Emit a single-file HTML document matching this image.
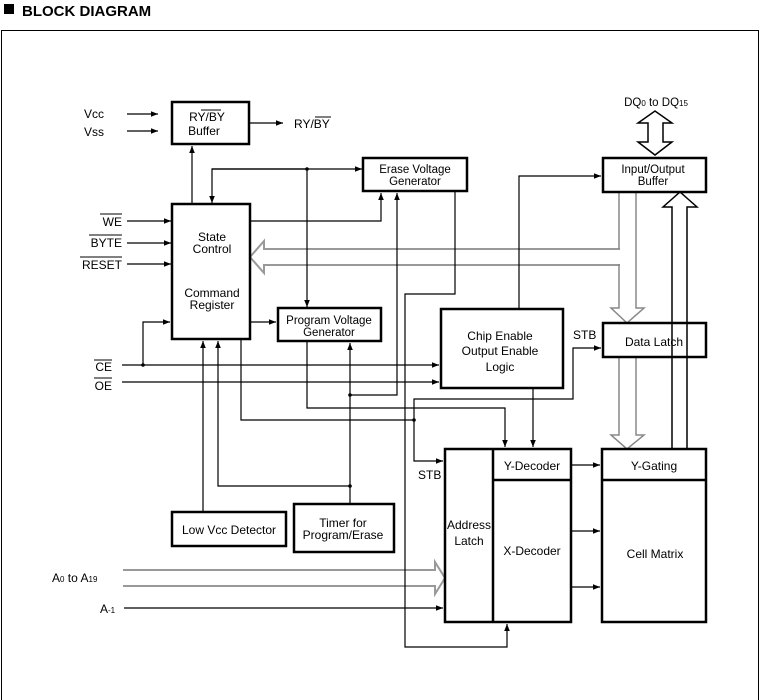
<!DOCTYPE html>
<html><head><meta charset="utf-8"><style>
html,body{margin:0;padding:0;background:#fff;}
svg{display:block;font-family:"Liberation Sans",Arial,sans-serif;}
</style></head><body>
<svg width="759" height="700" viewBox="0 0 759 700" xmlns="http://www.w3.org/2000/svg">
<defs>
<marker id="a" viewBox="0 0 10 10" refX="10" refY="5" markerWidth="7" markerHeight="7" orient="auto" markerUnits="userSpaceOnUse"><path d="M0,1 L10,5 L0,9 z" fill="#000"/></marker>
</defs>
<rect x="4" y="4" width="10" height="10" fill="#000"/>
<text x="22" y="16" font-size="15" font-weight="bold">BLOCK DIAGRAM</text>
<path d="M1.5,700 V30.5 H758.5 V700" fill="none" stroke="#000" stroke-width="1"/>

<!-- buses -->
<g fill="#fff" stroke="#999" stroke-width="2">
<path d="M620,249 H264 V241 L250,257 L264,273 V265 H620"/>
<path d="M123,570 H435 V562 L445,578 L435,594 V586 H123"/>
</g>
<rect x="266" y="250" width="352" height="14" fill="#fff"/>
<rect x="125" y="571" width="309" height="14" fill="#fff"/>

<g fill="none" stroke="#000" stroke-width="1.2">
<line x1="127" y1="114" x2="158" y2="114" marker-end="url(#a)"/>
<line x1="127" y1="131" x2="158" y2="131" marker-end="url(#a)"/>
<line x1="249" y1="123" x2="283" y2="123" marker-end="url(#a)"/>
<line x1="127" y1="221" x2="171" y2="221" marker-end="url(#a)"/>
<line x1="127" y1="243" x2="171" y2="243" marker-end="url(#a)"/>
<line x1="127" y1="264" x2="171" y2="264" marker-end="url(#a)"/>
<line x1="192" y1="204" x2="192" y2="146" marker-end="url(#a)"/>
<polyline points="307,169 212,169 212,203" marker-end="url(#a)"/>
<polyline points="212,169 362,169" marker-end="url(#a)"/>
<line x1="307" y1="169" x2="307" y2="307" marker-end="url(#a)"/>
<polyline points="250,221 381,221 381,193" marker-end="url(#a)"/>
<polyline points="350,395 397,395 397,193" marker-end="url(#a)"/>
<polyline points="455,191 455,294 405,294 405,647 507,647 507,624" marker-end="url(#a)"/>
<polyline points="519,309 519,176 601,176" marker-end="url(#a)"/>
<polyline points="250,322 276,322" marker-end="url(#a)"/>
<polyline points="122,365 439,365" marker-end="url(#a)"/>
<polyline points="122,382 439,382" marker-end="url(#a)"/>
<polyline points="143,365 143,322 170,322" marker-end="url(#a)"/>
<polyline points="203,512 203,341" marker-end="url(#a)"/>
<polyline points="350,486 218,486 218,341" marker-end="url(#a)"/>
<polyline points="350,504 350,343" marker-end="url(#a)"/>
<polyline points="241,339 241,420 414,420"/>
<polyline points="307,341 307,408 505,408 505,447" marker-end="url(#a)"/>
<polyline points="414,420 414,399 573,399 573,348 601,348" marker-end="url(#a)"/>
<polyline points="414,420 414,461 443,461" marker-end="url(#a)"/>
<line x1="533" y1="388" x2="533" y2="447" marker-end="url(#a)"/>
<line x1="571" y1="465" x2="600" y2="465" marker-end="url(#a)"/>
<line x1="571" y1="531" x2="600" y2="531" marker-end="url(#a)"/>
<line x1="571" y1="587" x2="600" y2="587" marker-end="url(#a)"/>
<line x1="124" y1="608" x2="443" y2="608" marker-end="url(#a)"/>
</g>
<g fill="#000">
<circle cx="307" cy="169" r="1.8"/><circle cx="143" cy="365" r="1.8"/>
<circle cx="350" cy="395" r="1.8"/><circle cx="350" cy="486" r="1.8"/>
<circle cx="414" cy="420" r="1.8"/>
</g>

<g fill="none" stroke="#888" stroke-width="1.5">
<path d="M619,192 V249 M619,264 V308 H611 L627,323 L644,308 H636 V192" />
<path d="M619,357 V435 H611 L627,449 L644,435 H636 V357"/>
</g>
<g fill="none" stroke="#000" stroke-width="1.5">
<path d="M672,449 V207 H663 L680,192 L697,207 H687 V449"/>
<path d="M648,123 H638 L655,111 L672,123 H663 V142 H672 L655,155 L638,142 H648 Z" fill="#fff"/>
</g>

<g fill="none" stroke="#000" stroke-width="2.5">
<rect x="172" y="102" width="77" height="42"/>
<rect x="172" y="204" width="78" height="135"/>
<rect x="363" y="158" width="104" height="33"/>
<rect x="278" y="308" width="103" height="33"/>
<rect x="441" y="309" width="122" height="79"/>
<rect x="603" y="158" width="103" height="34"/>
<rect x="603" y="323" width="103" height="34"/>
<rect x="445" y="449" width="126" height="173"/>
<line x1="493" y1="449" x2="493" y2="622"/>
<line x1="493" y1="480" x2="571" y2="480"/>
<rect x="602" y="449" width="104" height="173"/>
<line x1="602" y1="480" x2="706" y2="480"/>
<rect x="172" y="512" width="114" height="34"/>
<rect x="294" y="504" width="100" height="48"/>
</g>

<g font-size="12" text-anchor="middle" fill="#000">
<text x="207" y="121">RY/BY</text>
<line x1="201" y1="110" x2="221" y2="110" stroke="#000"/>
<text x="204" y="135">Buffer</text>
<text x="212" y="241">State</text>
<text x="212" y="253">Control</text>
<text x="212" y="297">Command</text>
<text x="212" y="309">Register</text>
<text x="415" y="173" font-size="11.5">Erase Voltage</text>
<text x="415" y="185" font-size="11.5">Generator</text>
<text x="329" y="324" font-size="11.5">Program Voltage</text>
<text x="329" y="336" font-size="11.5">Generator</text>
<text x="500" y="340">Chip Enable</text>
<text x="500" y="355">Output Enable</text>
<text x="500" y="371">Logic</text>
<text x="653" y="173" font-size="11.5">Input/Output</text>
<text x="653" y="185" font-size="11.5">Buffer</text>
<text x="654" y="346">Data Latch</text>
<text x="532" y="470">Y-Decoder</text>
<text x="532" y="555">X-Decoder</text>
<text x="469" y="529">Address</text>
<text x="469" y="545">Latch</text>
<text x="654" y="470">Y-Gating</text>
<text x="655" y="558">Cell Matrix</text>
<text x="229" y="534">Low Vcc Detector</text>
<text x="343" y="527">Timer for</text>
<text x="343" y="539">Program/Erase</text>
<text x="656" y="106" font-size="11.5">DQ<tspan font-size="8">0</tspan> to DQ<tspan font-size="8">15</tspan></text>
</g>
<g font-size="12" fill="#000">
<text x="84" y="118">Vcc</text>
<text x="84" y="136">Vss</text>
<text x="294" y="128">RY/BY</text>
<line x1="315" y1="117" x2="331" y2="117" stroke="#000"/>
<text x="122" y="226" text-anchor="end">WE</text>
<line x1="100" y1="214" x2="122" y2="214" stroke="#000"/>
<text x="122" y="247" text-anchor="end">BYTE</text>
<line x1="89" y1="235" x2="122" y2="235" stroke="#000"/>
<text x="122" y="269" text-anchor="end">RESET</text>
<line x1="80" y1="257" x2="122" y2="257" stroke="#000"/>
<text x="112" y="371" text-anchor="end">CE</text>
<line x1="94" y1="360" x2="112" y2="360" stroke="#000"/>
<text x="112" y="390" text-anchor="end">OE</text>
<line x1="94" y1="378" x2="112" y2="378" stroke="#000"/>
<text x="573" y="339">STB</text>
<text x="418" y="479">STB</text>
<text x="52" y="582">A<tspan font-size="8">0</tspan> to A<tspan font-size="8">19</tspan></text>
<text x="100" y="613">A<tspan font-size="8">-1</tspan></text>
</g>
</svg>
</body></html>
